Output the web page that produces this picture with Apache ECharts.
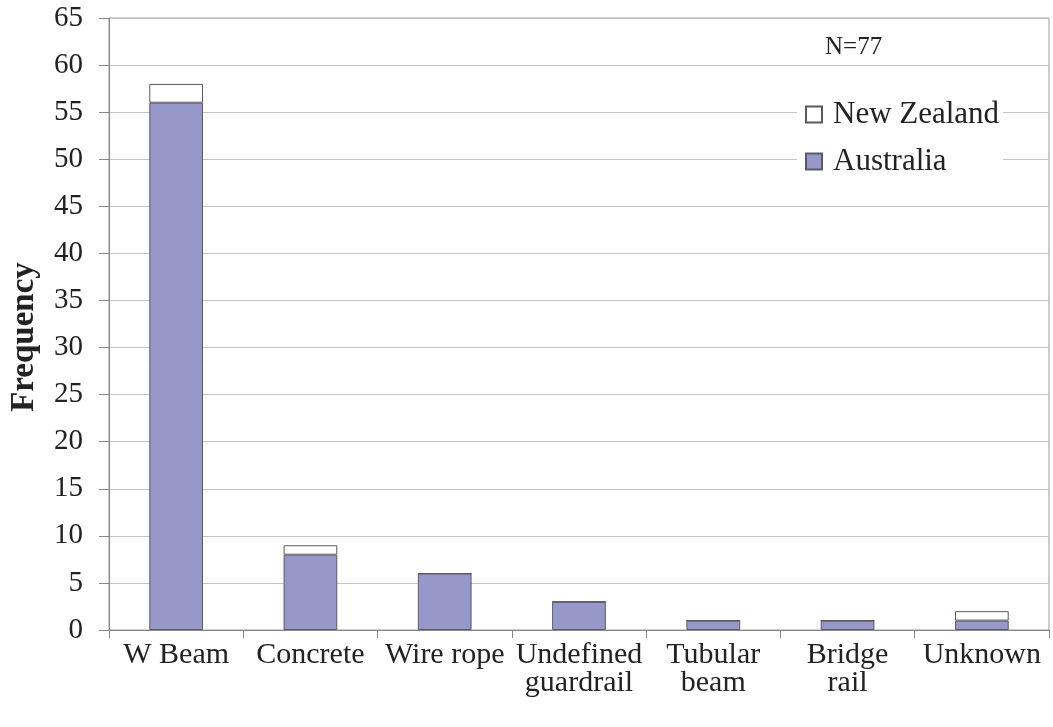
<!DOCTYPE html>
<html>
<head>
<meta charset="utf-8">
<script src="https://cdn.jsdelivr.net/npm/echarts@6/dist/echarts.min.js"></script>
<style>
html,body{margin:0;padding:0;background:#fff;}
#chart{width:1053px;height:727px;}
</style>
</head>
<body>
<div id="chart"></div>
<script>
const categories = ['W Beam', 'Concrete', 'Wire rope', 'Undefined\nguardrail', 'Tubular\nbeam', 'Bridge\nrail', 'Unknown'];
const australia = [56, 8, 6, 3, 1, 1, 1];
const newZealand = [2, 1, 0, 0, 0, 0, 1];
const yTicks = { min: 0, max: 65, interval: 5 };
const sampleLabel = 'N=77';

const font = 'Liberation Serif';
const chart = echarts.init(document.getElementById('chart'), null, { renderer: 'canvas' });
chart.setOption({
  animation: false,
  backgroundColor: '#fff',
  textStyle: { fontFamily: font },
  grid: { left: 108, right: 4, top: 18, bottom: 97, show: true, borderColor: '#9a9a9a', borderWidth: 1, backgroundColor: 'transparent' },
  title: {
    text: sampleLabel, left: 820, top: 30,
    textStyle: { fontFamily: font, fontSize: 25, fontWeight: 'normal', color: '#222' }
  },
  legend: {
    data: ['New Zealand', 'Australia'],
    orient: 'vertical', left: 797, top: 93,
    backgroundColor: '#fff', padding: [6, 4, 8, 8],
    itemWidth: 16, itemHeight: 16, itemGap: 16,
    icon: 'rect',
    textStyle: { fontFamily: font, fontSize: 31, color: '#222', padding: [0, 0, 0, 6] }
  },
  xAxis: {
    type: 'category', data: categories,
    axisLine: { lineStyle: { color: '#888', width: 1 } },
    axisTick: { show: true, alignWithLabel: false, interval: 0, length: 8, lineStyle: { color: '#888' } },
    axisLabel: { interval: 0, fontFamily: font, fontSize: 30, color: '#222', lineHeight: 28, margin: 11 }
  },
  yAxis: {
    type: 'value', min: yTicks.min, max: yTicks.max, interval: yTicks.interval,
    name: 'Frequency', nameLocation: 'middle', nameGap: 68,
    nameTextStyle: { fontFamily: font, fontSize: 33, fontWeight: 'bold', color: '#222', padding: [0, 26, 0, 0] },
    axisLine: { show: true, lineStyle: { color: '#888', width: 1 } },
    axisTick: { show: true, length: 10, lineStyle: { color: '#888' } },
    axisLabel: { fontFamily: font, fontSize: 29, color: '#222', margin: 26 },
    splitLine: { lineStyle: { color: '#c4c4c4', width: 1 } }
  },
  series: [
    {
      name: 'Australia', type: 'bar', stack: 'total', data: australia, barWidth: '40%',
      itemStyle: { color: '#9797ca', borderColor: '#5a5a6a', borderWidth: 1 }
    },
    {
      name: 'New Zealand', type: 'bar', stack: 'total', data: newZealand, barWidth: '40%',
      itemStyle: { color: '#ffffff', borderColor: '#5a5a5a', borderWidth: 1 }
    }
  ]
});
</script>
</body>
</html>
